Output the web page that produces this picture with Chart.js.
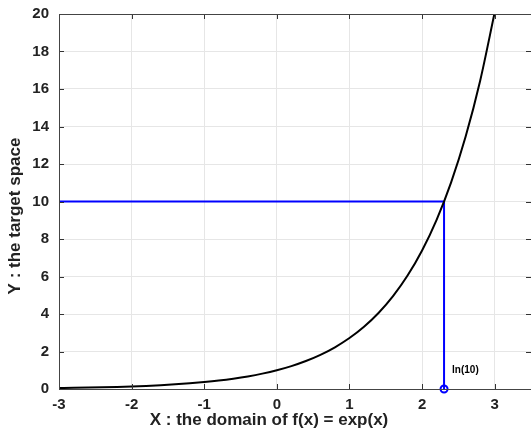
<!DOCTYPE html>
<html>
<head>
<meta charset="utf-8">
<script src="https://cdn.jsdelivr.net/npm/chart.js@4.4.1/dist/chart.umd.min.js"></script>
<style>
  html, body { margin: 0; padding: 0; background: #fff; }
  #wrap { width: 531px; height: 437px; }
</style>
</head>
<body>
<div id="wrap"><canvas id="graphCanvas" width="531" height="437"></canvas></div>
<script>
// curva f(x) = exp(x)
const xValues = [-3.0, -2.8, -2.6, -2.4, -2.2, -2.0, -1.8, -1.6, -1.4, -1.2, -1.0,
                 -0.8, -0.6, -0.4, -0.2, 0.0, 0.2, 0.4, 0.6, 0.8, 1.0,
                 1.2, 1.4, 1.6, 1.8, 2.0, 2.2, 2.4, 2.6, 2.8, 3.0];
const yValues = [0.050, 0.061, 0.074, 0.091, 0.111, 0.135, 0.165, 0.202, 0.247, 0.301, 0.368,
                 0.449, 0.549, 0.670, 0.819, 1.000, 1.221, 1.492, 1.822, 2.226, 2.718,
                 3.320, 4.055, 4.953, 6.050, 7.389, 9.025, 11.023, 13.464, 16.445, 20.086];

// lineas azules: y = 10 hasta x = ln(10)
const guideX = [-3.0, 2.3026, 2.3026];
const guideY = [10, 10, 0];
const markerX = [2.3026];
const markerY = [0];
const markerLabel = 'ln(10)';

const xTicks = [-3, -2, -1, 0, 1, 2, 3];
const yTicks = [0, 2, 4, 6, 8, 10, 12, 14, 16, 18, 20];
const xTitle = 'X : the domain of f(x) = exp(x)';
const yTitle = 'Y : the target space';

const FAM = 'Liberation Sans, Arial, sans-serif';
const fontBold = { family: FAM, weight: 'bold' };

// ticks hacia adentro, marco, titulos y etiqueta ln(10)
const boxPlugin = {
    id: 'boxPlugin',
    afterDatasetsDraw(c) {
        const ctx = c.ctx;
        const a = c.chartArea;
        const xs = c.scales.x, ys = c.scales.y;
        ctx.save();
        ctx.strokeStyle = '#333';
        ctx.lineWidth = 1;
        ctx.beginPath();
        xTicks.forEach(v => {
            const px = Math.round(xs.getPixelForValue(v)) + 0.5;
            ctx.moveTo(px, a.bottom); ctx.lineTo(px, a.bottom - 5);
            ctx.moveTo(px, a.top); ctx.lineTo(px, a.top + 5);
        });
        yTicks.forEach(v => {
            const py = Math.round(ys.getPixelForValue(v)) + 0.5;
            ctx.moveTo(a.left, py); ctx.lineTo(a.left + 5, py);
            ctx.moveTo(a.right, py); ctx.lineTo(a.right - 5, py);
        });
        ctx.stroke();
        ctx.strokeStyle = '#444';
        // el borde derecho queda justo fuera del lienzo
        ctx.strokeRect(a.left + 0.5, a.top + 0.5, a.right - a.left + 1, a.bottom - a.top);

        ctx.fillStyle = '#000';
        ctx.font = 'bold 10px ' + FAM;
        ctx.textBaseline = 'middle';
        ctx.fillText(markerLabel, xs.getPixelForValue(markerX[0]) + 8, ys.getPixelForValue(1.0));

        // titulos de los ejes
        ctx.fillStyle = '#222';
        ctx.font = 'bold 17px ' + FAM;
        ctx.textAlign = 'center';
        ctx.fillText(xTitle, 269, 420);
        ctx.translate(15, 216);
        ctx.rotate(-Math.PI / 2);
        ctx.fillText(yTitle, 0, 0);
        ctx.restore();
    }
};

const chart = new Chart(document.getElementById('graphCanvas').getContext('2d'), {
    type: 'line',
    data: {
        datasets: [{
            data: xValues.map((x, i) => ({ x, y: yValues[i] })),
            borderColor: '#000',
            borderWidth: 2,
            pointRadius: 0,
            fill: false,
            cubicInterpolationMode: 'monotone'
        }, {
            data: guideX.map((x, i) => ({ x, y: guideY[i] })),
            borderColor: '#0000ff',
            borderWidth: 2,
            pointRadius: 0,
            fill: false
        }, {
            data: markerX.map((x, i) => ({ x, y: markerY[i] })),
            showLine: false,
            borderColor: '#0000ff',
            backgroundColor: 'rgba(0,0,0,0)',
            borderWidth: 2,
            pointRadius: 3.5,
            clip: 6
        }]
    },
    options: {
        responsive: false,
        animation: false,
        events: [],
        layout: { autoPadding: false, padding: { top: 14, right: 0, left: 0, bottom: 0 } },
        plugins: { legend: { display: false }, tooltip: { enabled: false } },
        scales: {
            x: {
                type: 'linear',
                min: -3,
                max: 3.5,
                afterBuildTicks: s => { s.ticks = xTicks.map(v => ({ value: v })); },
                afterFit: s => { s.height = 48; s.paddingLeft = 0; s.paddingRight = 0; },
                grid: { color: '#e6e6e6', drawTicks: false },
                border: { display: false },
                ticks: { color: '#222', padding: 7, font: { ...fontBold, size: 15 } }
            },
            y: {
                min: 0,
                max: 20,
                afterBuildTicks: s => { s.ticks = yTicks.map(v => ({ value: v })); },
                afterFit: s => { s.width = 59; s.paddingTop = 0; s.paddingBottom = 0; },
                grid: { color: '#e6e6e6', drawTicks: false },
                border: { display: false },
                ticks: { color: '#222', padding: 10, font: { ...fontBold, size: 15 } }
            }
        }
    },
    plugins: [boxPlugin]
});
</script>
</body>
</html>
